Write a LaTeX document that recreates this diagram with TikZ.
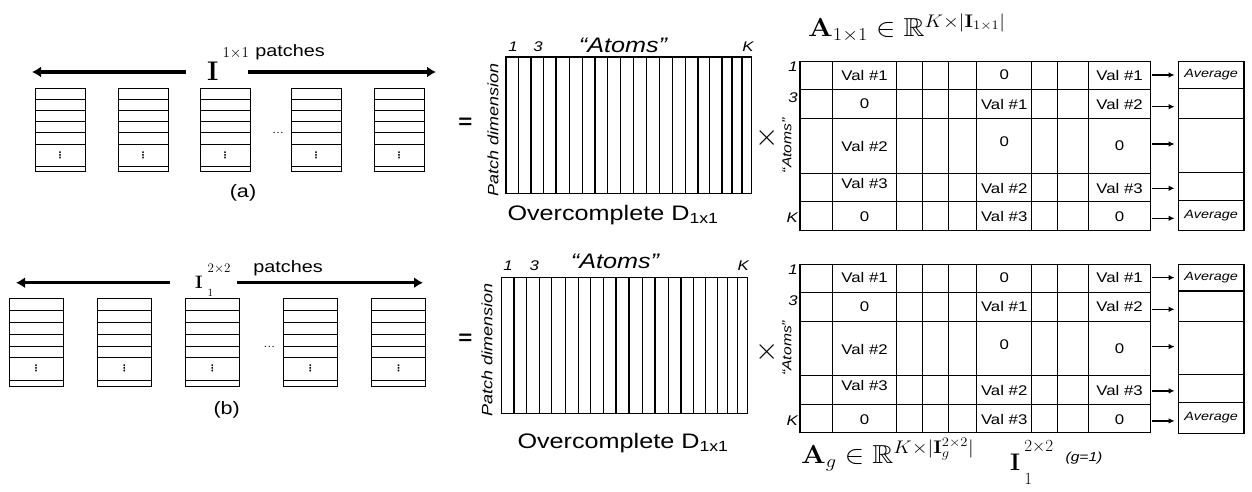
\RequirePackage{fix-cm}
\documentclass[tikz,border=0pt]{standalone}
\usepackage{graphicx,amsmath,amssymb}
\usepackage[no-math]{fontspec}
\setmainfont{Liberation Sans}[FakeStretch=1.2]
\newfontfamily\dotfont{DejaVu Sans}
\usetikzlibrary{arrows.meta,positioning}
\newcommand{\fsz}[1]{\fontsize{#1}{#1}\selectfont}

\begin{document}
\begin{tikzpicture}[x=1pt, y=-1pt, inner sep=0pt,
  cell/.style={line width=1.1pt},
  patchline/.style={line width=1pt},
  bigarr/.style={-{Latex[length=9pt,width=11pt]}, line width=3.3pt},
  smallarr/.style={-{Latex[length=6pt,width=5.5pt]}, line width=1.2pt, shorten >=3pt},
  val/.style={font=\fsz{14}},
  idx/.style={font=\itshape\fsz{14}},
  vdot/.style={font=\dotfont\bfseries\fsz{9}},
  avgbox/.style={draw, line width=1.3pt, minimum width=65.7pt, font=\itshape\fsz{12}},
  lbl/.style={font=\fsz{16.5}}]
\useasboundingbox (0,0) rectangle (1252,492);

% Patches (a)
\foreach \px [count=\k] in {35,118,200,291,374} {
  \draw[patchline] (\px,89) rectangle ++(50,82);
  \foreach \f in {11,22,33,44,55,77}
    \draw[patchline] (\px,89+\f) -- ++(50,0);
  \node[vdot] (dotA\k) at (\px+25,155) {⋮};
}
\node[font=\fsz{10}] (moreA) at (278,133) {\dots};
\coordinate (lgapA) at (186,72);
\coordinate (rgapA) at (248,72);
\coordinate (ltipA) at (32,72);
\coordinate (rtipA) at (436,72);
\draw[bigarr] (lgapA) -- (ltipA);
\draw[bigarr] (rgapA) -- (rtipA);
\node[anchor=base west] (Ia) at (207,81) {\fsz{27}$\mathbf{I}$\hspace{4pt}\raisebox{23pt}{\fsz{15}$1{\times}1$}};
\node[lbl] (patchA) at (290,52) {patches};
\node[font=\fsz{18}] (capA) at (243,193) {(a)};

% Patches (b)
\foreach \px [count=\k] in {9,97.3,185.3,283.3,371.7} {
  \draw[patchline] (\px,298.3) rectangle ++(54,87.7);
  \foreach \f in {12.4,24,36,47.7,59,82.4}
    \draw[patchline] (\px,298.3+\f) -- ++(54,0);
  \node[vdot] (dotB\k) at (\px+27,368.3) {⋮};
}
\node[font=\fsz{10}] (moreB) at (269.3,346.7) {\dots};
\coordinate (lgapB) at (170,282.7);
\coordinate (rgapB) at (237,282.7);
\coordinate (ltipB) at (16,282.7);
\coordinate (rtipB) at (423,282.7);
\draw[bigarr] (lgapB) -- (ltipB);
\draw[bigarr] (rgapB) -- (rtipB);
\node[anchor=base west] (Ib) at (195,288.3) {\fsz{18}$\mathbf{I}$\hspace{5pt}\rlap{\raisebox{-8.4pt}{\fsz{11}$1$}}\raisebox{16pt}{\fsz{13}$2{\times}2$}};
\node[lbl] (patchB) at (288,268.3) {patches};
\node[font=\fsz{18}] (capB) at (226.7,410) {(b)};

% Dictionaries
\foreach \dx/\dy in {506/57,501.7/277.3} {
  \draw[cell] (\dx,\dy) rectangle ++(245.7,136.5);
  \foreach \c in {12.3,25,37.7,50,63.7,76.7,89,101.5,114.3,127.3,140.5,153.3,166.5,179.3,192,203.8,216,226,236}
    \draw[cell] (\dx+\c,\dy) -- ++(0,136.5);
}
\node[idx] (oneA) at (513,47) {1};
\node[idx] (threeA) at (538,47) {3};
\node[idx] (kA) at (748,47) {K};
\node[font=\itshape\fsz{21}] (datomsA) at (623,45) {``Atoms''};
\node[font=\itshape\fsz{15}, rotate=90] (pdimA) at (493,130) {Patch dimension};
\node[font=\fsz{21}] (ocA) at (613,215) {Overcomplete D\textsubscript{1x1}};
\node[font=\bfseries\fsz{20}] (eqA) at (465.5,123.3) {=};
\node[font=\fsz{30}] (timesA) at (767,138) {$\times$};
\node[idx] (oneB) at (508,266) {1};
\node[idx] (threeB) at (534.3,266) {3};
\node[idx] (kB) at (743.3,266) {K};
\node[font=\itshape\fsz{21}] (datomsB) at (615,261.7) {``Atoms''};
\node[font=\itshape\fsz{15}, rotate=90] (pdimB) at (487,350) {Patch dimension};
\node[font=\fsz{21}] (ocB) at (623,442.7) {Overcomplete D\textsubscript{1x1}};
\node[font=\bfseries\fsz{20}] (eqB) at (465.5,339) {=};
\node[font=\fsz{30}] (timesB) at (767,352) {$\times$};

% Coefficient matrices
\foreach \p/\oy in {A/61.7,B/264.3} {
  \draw[cell] (800,\oy) rectangle (1150.7,\oy+168.6);
  \foreach \ry in {28,57,111.6,140}
    \draw[cell] (800,\oy+\ry) -- (1150.7,\oy+\ry);
  \foreach \cx in {832.3,896.7,922.7,948.3,976.7,1031.7,1057.7,1088.3}
    \draw[cell] (\cx,\oy) -- (\cx,\oy+168.6);
  \node[idx, anchor=east] (rone\p) at (798,\oy+5) {1};
  \node[idx, anchor=east] (rthree\p) at (798,\oy+36) {3};
  \node[idx, anchor=east] (rk\p) at (798,\oy+156) {K};
  \node[font=\itshape\fsz{13}, rotate=90] (ratoms\p) at (787,\oy+84) {``Atoms''};
  \foreach \vx/\vy/\vt [count=\k] in {864.5/13.3/Val \#1, 1004.2/13.3/0, 1119.5/13.3/Val \#1,
      864.5/42.3/0, 1004.2/42.3/Val \#1, 1119.5/42.3/Val \#2,
      864.5/85/Val \#2, 1004.2/80/0, 1119.5/84/0,
      864.5/121.6/Val \#3, 1004.2/126.6/Val \#2, 1119.5/126.6/Val \#3,
      864.5/155/0, 1004.2/155/Val \#3, 1119.5/155/0}
    \node[val] (val\p\k) at (\vx,\oy+\vy) {\vt};
  \foreach \ay/\ah/\at [count=\k] in {13.35/26.7/Average, 41.85/30.3/{}, 83.75/53.5/{}, 124.5/28/{}, 153.75/30.5/Average}
    \node[avgbox, minimum height=\ah pt] (avg\p\k) at (1211.15,\oy+\ay) {\at};
  \foreach \sy [count=\k] in {13.3,45,82.3,126.6,156.6} {
    \coordinate (src\p\k) at (1152,\oy+\sy);
    \draw[smallarr] (src\p\k) -- (src\p\k -| avg\p\k.west);
  }
}

% Formulas
\node[anchor=base west, font=\fsz{26}] (coefA) at (808,36.7) {\scalebox{1.12}[1]{$\mathbf{A}_{1\times1}\in\mathbb{R}^{K\times|\mathbf{I}_{1\times1}|}$}};
\node[anchor=base west, font=\fsz{26}] (coefB) at (801,463.3) {\scalebox{1.12}[1]{$\mathbf{A}_g\in\mathbb{R}^{K\times|\mathbf{I}_g^{2\times2}|}$}};
\node[anchor=base west] (groupB) at (1010,470) {\fsz{24}$\mathbf{I}$\hspace{4pt}\rlap{\raisebox{-14pt}{\fsz{17}$1$}}\raisebox{19pt}{\fsz{17}$2{\times}2$}};
\node[font=\itshape\fsz{13}] (gB) at (1084,458) {(g=1)};
\end{tikzpicture}
\end{document}
